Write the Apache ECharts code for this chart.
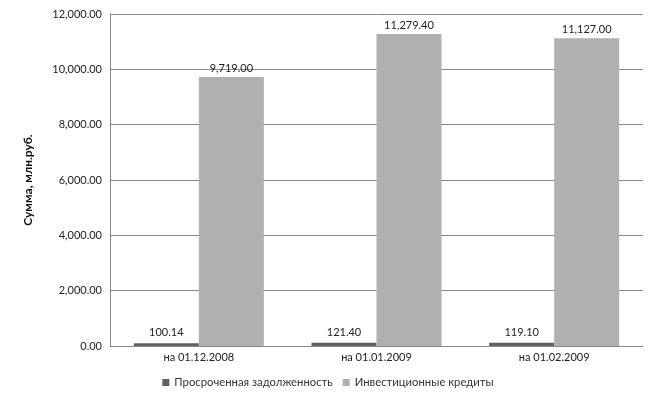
<!DOCTYPE html>
<html>
<head>
<meta charset="utf-8">
<script src="https://cdn.jsdelivr.net/npm/echarts@6/dist/echarts.min.js"></script>
<style>
  html, body { margin: 0; padding: 0; background: #fff; }
  #chart { width: 656px; height: 398px; }
</style>
</head>
<body>
<div id="chart"></div>
<script>
const categories = ['на 01.12.2008', 'на 01.01.2009', 'на 01.02.2009']
const overdue = [100.14, 121.40, 119.10]
const investLoans = [9719.00, 11279.40, 11127.00]
const seriesNames = ['Просроченная задолженность', 'Инвестиционные кредиты']

const fmt = v => v.toLocaleString('en-US', { minimumFractionDigits: 2, maximumFractionDigits: 2 })
const font = 'Lato, "Noto Sans", sans-serif'

const chart = echarts.init(document.getElementById('chart'))
chart.setOption({
  animation: false,
  textStyle: { fontFamily: font },
  grid: { left: 110, right: 13, top: 14, bottom: 52 },
  legend: {
    bottom: 5,
    left: 'center',
    itemWidth: 7,
    itemHeight: 7,
    itemGap: 10,
    icon: 'rect',
    textStyle: { fontSize: 11.3, color: '#333', fontFamily: font },
    data: seriesNames
  },
  xAxis: {
    type: 'category',
    data: categories,
    axisLine: { lineStyle: { color: '#888' } },
    axisTick: { show: false },
    axisLabel: { fontSize: 11, color: '#222', margin: 6, fontFamily: font }
  },
  yAxis: {
    type: 'value',
    min: 0,
    max: 12000,
    interval: 2000,
    name: 'Сумма, млн.руб.',
    nameLocation: 'middle',
    nameGap: 76,
    nameTextStyle: { fontSize: 12, fontWeight: 'bold', color: '#111', fontFamily: font },
    axisLine: { show: true, lineStyle: { color: '#888' } },
    axisTick: { show: false },
    axisLabel: { fontSize: 11, color: '#222', margin: 8, formatter: fmt, fontFamily: font },
    splitLine: { lineStyle: { color: '#888' } }
  },
  series: [
    {
      name: seriesNames[0],
      type: 'bar',
      data: overdue,
      barWidth: 65,
      barGap: '0%',
      itemStyle: { color: '#606060' },
      label: { show: true, position: 'top', distance: 5, fontSize: 11, color: '#222', formatter: p => fmt(p.value), fontFamily: font }
    },
    {
      name: seriesNames[1],
      type: 'bar',
      data: investLoans,
      barWidth: 65,
      barGap: '0%',
      itemStyle: { color: '#b0b0b0' },
      label: { show: true, position: 'top', distance: 3, fontSize: 11, color: '#222', formatter: p => fmt(p.value), fontFamily: font }
    }
  ]
})
</script>
</body>
</html>
